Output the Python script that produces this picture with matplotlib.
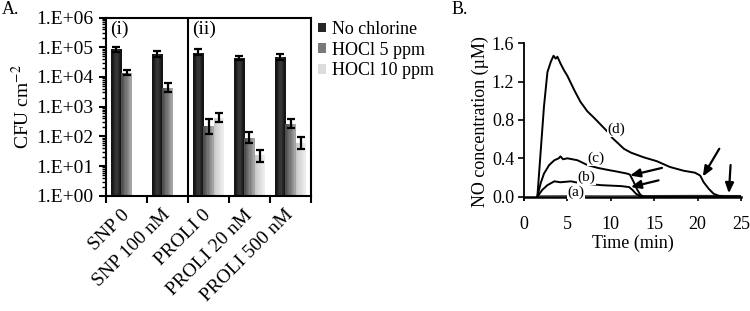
import numpy as np
import matplotlib
matplotlib.use("Agg")
import matplotlib.pyplot as plt
from matplotlib.patches import Patch
from matplotlib.colors import to_rgb

plt.rcParams['font.family'] = ['Liberation Serif', 'DejaVu Serif']
plt.rcParams['mathtext.fontset'] = 'stix'

# ---------------- Panel A data ----------------
categories = ["SNP 0", "SNP 100 nM", "PROLI 0", "PROLI 20 nM", "PROLI 500 nM"]
series_names = ["No chlorine", "HOCl 5 ppm", "HOCl 10 ppm"]
no_chlorine = [8.5e4, 6.0e4, 6.6e4, 4.3e4, 4.8e4]
no_chlorine_hi = [1.05e5, 7.7e4, 8.5e4, 5.0e4, 6.0e4]
no_chlorine_lo = [6.8e4, 4.8e4, 5.5e4, 3.7e4, 3.6e4]
hocl5 = [1.35e4, 4.4e3, 2.25e2, 9.0e1, 2.65e2]
hocl5_hi = [1.77e4, 6.3e3, 3.85e2, 1.36e2, 3.85e2]
hocl5_lo = [1.14e4, 3.1e3, 1.23e2, 6.0e1, 1.92e2]
hocl10 = [np.nan, np.nan, 4.2e2, 2.2e1, 6.0e1]
hocl10_hi = [np.nan, np.nan, 6.1e2, 3.56e1, 9.5e1]
hocl10_lo = [np.nan, np.nan, 2.95e2, 1.33e1, 3.8e1]
ytick_labels = ["1.E+00", "1.E+01", "1.E+02", "1.E+03", "1.E+04", "1.E+05", "1.E+06"]

# ---------------- Panel B data ----------------
t_d = [1.54, 2.3, 2.7, 3.1, 3.4, 3.65, 3.85, 4.2, 4.6, 5.0, 5.8, 6.5, 7.3, 8.1, 8.85,
       9.6, 10.2, 10.8, 11.5, 12.3, 13.8, 15.3, 16.8, 18.4, 19.7, 20.3, 20.7, 21.3,
       21.85, 22.4, 23.0, 25.0]
v_d = [0.0, 0.94, 1.30, 1.41, 1.47, 1.44, 1.46, 1.39, 1.32, 1.26, 1.11, 0.99, 0.89,
       0.82, 0.75, 0.68, 0.61, 0.56, 0.50, 0.46, 0.41, 0.37, 0.31, 0.27, 0.25, 0.22,
       0.15, 0.08, 0.03, 0.01, 0.0, 0.0]
t_c = [1.54, 1.92, 2.3, 2.9, 3.5, 4.0, 4.2, 4.5, 5.0, 6.15, 7.3, 8.5, 9.6, 10.8, 11.9,
       12.2, 12.6, 13.0, 13.4, 13.8, 25.0]
v_c = [0.0, 0.14, 0.24, 0.33, 0.38, 0.40, 0.42, 0.39, 0.40, 0.38, 0.33, 0.30, 0.28,
       0.26, 0.24, 0.23, 0.16, 0.08, 0.02, 0.0, 0.0]
t_b = [1.54, 2.1, 2.7, 3.5, 4.2, 5.4, 6.5, 7.7, 8.85, 10.0, 11.2, 12.1, 12.5, 12.9,
       13.3, 13.6, 25.0]
v_b = [0.0, 0.07, 0.12, 0.16, 0.15, 0.16, 0.14, 0.13, 0.12, 0.115, 0.11, 0.10, 0.07,
       0.03, 0.01, 0.0, 0.0]
t_a = [1.54, 5.0, 10.0, 15.0, 20.0, 25.0]
v_a = [0.008, 0.01, 0.008, 0.01, 0.012, 0.01]

fig = plt.figure(figsize=(7.5, 3.11), dpi=100)

# ================= Panel A =================
axA = fig.add_axes([106/750, 1-195.7/311, 205/750, (195.7-17.6)/311])
axA.set_yscale('log')

centers = np.arange(len(categories)) + 0.5
bw = 0.245
offsets = [-bw, 0.0, bw]
grad = {
    0: ("#101010", "#3a3a3a", "#101010"),
    1: ("#4a4a4a", "#7a7a7a", "#aaaaaa"),
    2: ("#c4c4c4", "#dcdcdc", "#eeeeee"),
}
values = [no_chlorine, hocl5, hocl10]
his = [no_chlorine_hi, hocl5_hi, hocl10_hi]
los = [no_chlorine_lo, hocl5_lo, hocl10_lo]
nstrip = 8
for s in range(3):
    c0, c1, c2 = [np.array(to_rgb(c)) for c in grad[s]]
    for k in range(nstrip):
        f = (k + 0.5) / nstrip
        if f < 0.5:
            col = c0 + (c1 - c0) * (f / 0.5)
        else:
            col = c1 + (c2 - c1) * ((f - 0.5) / 0.5)
        axA.bar(centers + offsets[s] - bw/2 + k*bw/nstrip, values[s], width=bw/nstrip*1.02,
                bottom=1, align='edge', color=col, linewidth=0, zorder=2)
    v = np.array(values[s], dtype=float)
    yerr = [v - np.array(los[s]), np.array(his[s]) - v]
    axA.errorbar(centers + offsets[s], v, yerr=yerr, fmt='none', ecolor='black',
                 elinewidth=1.6, capsize=3, capthick=1.6, zorder=3)

axA.set_xlim(0, 5)
axA.set_ylim(1, 1e6)
axA.set_yticks([10.0**i for i in range(7)])
axA.set_yticklabels(ytick_labels, fontsize=14)
axA.set_xticks(np.arange(6))
axA.set_xticklabels([])
axA.set_xticks(centers, minor=True)
axA.set_xticklabels(categories, minor=True, rotation=45, ha='right', va='center',
                    rotation_mode='anchor', fontsize=14)
axA.tick_params(axis='x', which='major', direction='out', length=5, width=1.5)
axA.tick_params(axis='x', which='minor', length=0, pad=12)
axA.tick_params(axis='y', which='major', direction='out', length=5, width=1.5, pad=4)
axA.tick_params(axis='y', which='minor', direction='out', length=3, width=1.0)
for sp in axA.spines.values():
    sp.set_linewidth(1.5)
axA.axvline(2, color='black', lw=1.5, zorder=4)
axA.text(0.1, 4.0e5, "(i)", fontsize=14, ha='left', va='center')
axA.text(2.1, 4.0e5, "(ii)", fontsize=14, ha='left', va='center')
axA.set_ylabel("CFU cm$^{-2}$", fontsize=14, labelpad=2)

handles = [Patch(facecolor="#262626", edgecolor='none'),
           Patch(facecolor="#7a7a7a", edgecolor='none'),
           Patch(facecolor="#dcdcdc", edgecolor='none')]
fig.legend(handles, series_names, loc='upper left', bbox_to_anchor=(318/750, 1-21/311),
           frameon=False, fontsize=13, handlelength=0.45, handleheight=0.45,
           handletextpad=0.3, labelspacing=0.2, borderaxespad=0, borderpad=0)

fig.text(2/750, 1-9/311, "A.", fontsize=13, ha='left', va='center')

# ================= Panel B =================
axB = fig.add_axes([524/750, 1-200/311, (741-524)/750, (200-43.3)/311])
axB.plot(t_a, v_a, color='#555555', lw=1.0, zorder=2)
axB.plot(t_b, v_b, color='black', lw=1.4, zorder=3)
axB.plot(t_c, v_c, color='black', lw=1.4, zorder=3)
axB.plot(t_d, v_d, color='black', lw=1.4, zorder=3)
axB.set_xlim(0, 25)
axB.set_ylim(-0.035, 1.6)
axB.spines['top'].set_visible(False)
axB.spines['right'].set_visible(False)
axB.spines['bottom'].set_position(('data', 0))
axB.spines['bottom'].set_linewidth(1.8)
axB.spines['left'].set_linewidth(1.3)
axB.set_xticks([0, 5, 10, 15, 20, 25])
axB.set_yticks([0.0, 0.4, 0.8, 1.2, 1.6])
axB.set_yticklabels(["0.0", "0.4", "0.8", "1.2", "1.6"], fontsize=13)
axB.set_xticklabels(["0", "5", "10", "15", "20", "25"], fontsize=13)
axB.tick_params(axis='x', direction='out', length=3, width=1.2, pad=11)
axB.tick_params(axis='y', direction='out', length=4, width=1.2, pad=3)
axB.set_xlabel("Time (min)", fontsize=13, labelpad=1)
axB.set_ylabel("NO concentration (µM)", fontsize=13, labelpad=2)

for lab, tx, ty in [("(d)", 10.6, 0.70), ("(c)", 8.3, 0.40), ("(b)", 7.2, 0.20), ("(a)", 6.0, 0.05)]:
    axB.text(tx, ty, lab, fontsize=11, ha='center', va='center', zorder=4,
             bbox=dict(facecolor='white', edgecolor='none', pad=0.3))

arrows = [((15.9, 0.30), (12.2, 0.22)),
          ((15.5, 0.17), (12.3, 0.10)),
          ((22.5, 0.50), (20.6, 0.21)),
          ((23.8, 0.33), (23.6, 0.035))]
for tail, head in arrows:
    axB.annotate("", xy=head, xytext=tail,
                 arrowprops=dict(arrowstyle='-|>,head_length=0.6,head_width=0.25',
                                 color='black', lw=1.6, shrinkA=0, shrinkB=0))

fig.text(460/750, 1-10/311, "B.", fontsize=13, ha='center', va='center')

fig.savefig("out.png", dpi=100)
